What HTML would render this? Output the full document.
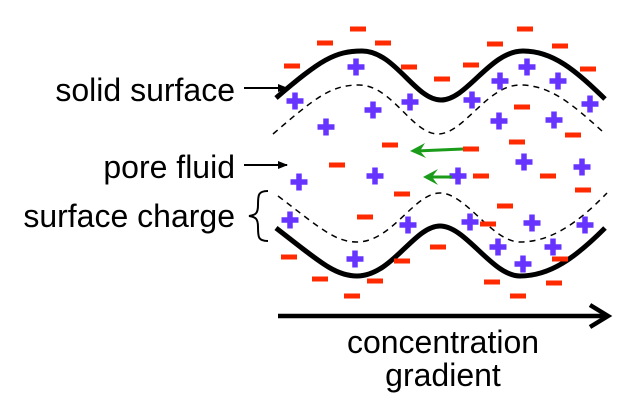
<!DOCTYPE html>
<html><head><meta charset="utf-8"><style>
html,body{margin:0;padding:0;background:#fff;}
svg{display:block;font-family:"Liberation Sans",Arial,sans-serif;}
</style></head><body>
<svg width="640" height="416" viewBox="0 0 640 416">
<defs>
<marker id="ah" markerWidth="10" markerHeight="10" refX="9" refY="5" orient="auto" markerUnits="userSpaceOnUse"><path d="M0,1 L10,5 L0,9 Z" fill="#000"/></marker>
</defs>
<path d="M276,98 C320,60 335,51 362,51 C395,51 415,100 441,100 C467,100 490,51 523,51 C553,51 575,70 605,99" stroke="#000" stroke-width="5" fill="none"/>
<path d="M273,134 C317,96 332,85 359,85 C392,85 412,134 438,134 C464,134 487,85 520,85 C550,85 572,104 602,131" stroke="#000" stroke-width="1.5" stroke-dasharray="6,5" fill="none"/>
<path d="M276,228 C320,262 335,276 357,276 C392,276 414,226 440,226 C466,226 492,276 520,276 C550,276 575,258 605,228" stroke="#000" stroke-width="5" fill="none"/>
<path d="M278,196 C320,228 335,242 357,242 C392,242 414,193 440,193 C466,193 492,242 520,242 C550,242 577,224 607,193" stroke="#000" stroke-width="1.5" stroke-dasharray="6,5" fill="none"/>
<g id="charges"></g>
<g>
<line x1="463" y1="149" x2="416" y2="151" stroke="#1a9c1a" stroke-width="3"/>
<path d="M425,143 L410,151 L426,158 L420,151 Z" fill="#1a9c1a"/>
</g>
<g>
<line x1="452" y1="177" x2="428" y2="177" stroke="#1a9c1a" stroke-width="3"/>
<path d="M438,169 L423,177 L438,185 L432,177 Z" fill="#1a9c1a"/>
</g>
<text x="235" y="101" font-size="32" text-anchor="end">solid surface</text>
<line x1="244" y1="88" x2="287" y2="88" stroke="#000" stroke-width="2" marker-end="url(#ah)"/>
<text x="235" y="178" font-size="32" text-anchor="end">pore fluid</text>
<line x1="244" y1="165" x2="287" y2="165" stroke="#000" stroke-width="2" marker-end="url(#ah)"/>
<text x="235" y="227" font-size="32" text-anchor="end">surface charge</text>
<path d="M268,191 C258,191 258,195 258,205 C258,213 256,215 249,216 C256,217 258,219 258,227 C258,237 258,241 268,241" stroke="#000" stroke-width="2" fill="none"/>
<line x1="278" y1="316" x2="608" y2="316" stroke="#000" stroke-width="4.5"/>
<path d="M590,305 L608,316 L590,327" stroke="#000" stroke-width="4.5" fill="none"/>
<text x="443" y="353" font-size="32" text-anchor="middle">concentration</text>
<text x="443" y="386" font-size="32" text-anchor="middle">gradient</text>
</svg>
<script>
const minusX=[292,325,358,383,409,442,471,495,525,560,588,522,573,390,471,517,337,402,481,548,583,365,505,289,402,488,438,320,560,375,492,554,352,518];
const minusY=[66,43,29,43,67,79,65,44,29,46,69,107,135,145,149,142,165,194,176,176,190,217,206,257,261,224,247,279,259,281,282,283,296,296];
const plusX=[356,295,373,410,326,472,500,527,558,590,499,554,299,375,458,524,582,290,408,470,532,585,355,498,553,523];
const plusY=[67,101,110,102,127,100,81,67,81,104,121,120,182,176,176,162,167,220,225,222,223,225,259,247,247,264];
const ns='http://www.w3.org/2000/svg';
const g=document.getElementById('charges');
for(let i=0;i<minusX.length;i++){
  const r=document.createElementNS(ns,'rect');
  r.setAttribute('x',minusX[i]-8);r.setAttribute('y',minusY[i]-2.5);
  r.setAttribute('width',16);r.setAttribute('height',5);r.setAttribute('fill','#ff2a00');
  
  
  g.appendChild(r);
}
for(let i=0;i<plusX.length;i++){
  const p=document.createElementNS(ns,'path');
  const x=plusX[i],y=plusY[i];
  p.setAttribute('d',`M${x-8.5},${y} L${x+8.5},${y} M${x},${y-8.5} L${x},${y+8.5}`);
  p.setAttribute('stroke','#6633ff');p.setAttribute('stroke-width',5.5);
  
  
  g.appendChild(p);
}
</script>
</body></html>
